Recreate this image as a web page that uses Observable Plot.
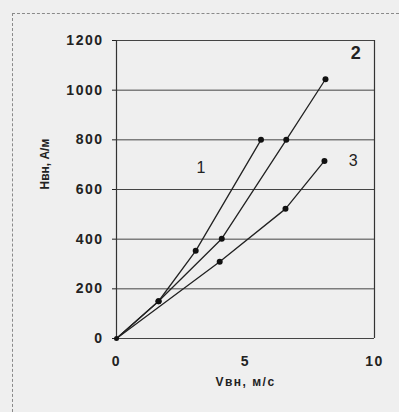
<!DOCTYPE html>
<html>
<head>
<meta charset="utf-8">
<script src="https://cdn.jsdelivr.net/npm/d3@7"></script>
<script src="https://cdn.jsdelivr.net/npm/@observablehq/plot@0.6"></script>
<style>
  html, body { margin: 0; padding: 0; background: #efefef; }
  #wrap { position: relative; width: 399px; height: 412px; overflow: hidden; }
  #frame { position: absolute; left: 12px; top: 13px; right: -5px; bottom: -5px;
           border-top: 1px dashed #8a8a8a; border-left: 1px dashed #8a8a8a; }
  svg { position: absolute; left: 0; top: 0; }
</style>
</head>
<body>
<div id="wrap"><div id="frame"></div></div>
<script>
// Series values (V, m/s ; H, A/m)
const series1V = [0, 1.63, 3.07, 5.6];
const series1H = [0, 150, 353, 800];
const series2V = [0, 1.63, 4.08, 6.58, 8.1];
const series2H = [0, 150, 402, 800, 1044];
const series3V = [0, 4.0, 6.55, 8.06];
const series3H = [0, 309, 522, 715];
const xTicks = [0, 5, 10];
const yTicks = [0, 200, 400, 600, 800, 1000, 1200];
const curveNames = ["1", "2", "3"];
const curveLabelV = [3.3, 9.3, 9.2];
const curveLabelH = [687, 1149, 715];
const xLabel = "Vвн, м/с";
const yLabel = "Нвн, А/м";

const rows = [];
[[series1V, series1H], [series2V, series2H], [series3V, series3H]].forEach(([vs, hs], i) => {
  vs.forEach((v, j) => rows.push({curve: curveNames[i], v, h: hs[j]}));
});
const labels = curveNames.map((n, i) => ({n, v: curveLabelV[i], h: curveLabelH[i]}));

const chart = Plot.plot({
  width: 399,
  height: 412,
  marginLeft: 116,
  marginRight: 25,
  marginTop: 40,
  marginBottom: 74,
  style: {background: "transparent", fontFamily: "Liberation Sans, Arial, sans-serif", color: "#222"},
  x: {domain: [0, 10], ticks: xTicks, tickFormat: d => String(d)},
  y: {domain: [0, 1200], ticks: yTicks, tickFormat: d => String(d)},
  marks: [
    Plot.ruleY(yTicks, {stroke: "#444", strokeWidth: 1}),
    Plot.ruleX([0, 10], {stroke: "#333", strokeWidth: 1.2}),
    Plot.axisX({ticks: xTicks, tickFormat: d => String(d), tickSize: 0, tickPadding: 18, label: null,
      fontSize: 14, fontWeight: "bold", fill: "#222"}),
    Plot.axisY({ticks: yTicks, tickFormat: d => String(d), tickSize: 4, tickPadding: 9, label: null,
      fontSize: 14, fontWeight: "bold", fill: "#222"}),
    Plot.line(rows, {x: "v", y: "h", z: "curve", stroke: "#222", strokeWidth: 1.3}),
    Plot.dot(rows.filter(d => d.v > 0), {x: "v", y: "h", r: 3, fill: "#111"}),
    Plot.dot([0], {x: d => 0, y: d => 0, r: 2.5, fill: "#111"}),
    Plot.text(labels.filter(d => d.n !== "2"), {x: "v", y: "h", text: "n", fontSize: 16, fill: "#222"}),
    Plot.text(labels.filter(d => d.n === "2"), {x: "v", y: "h", text: "n", fontSize: 18, fontWeight: "bold", fill: "#222"}),
    Plot.text([xLabel], {frameAnchor: "bottom", dy: 47, text: d => d, fontSize: 12, fontWeight: "bold",
      fill: "#222"}),
    Plot.text([yLabel], {frameAnchor: "left", dx: -71, rotate: -90, text: d => d, fontSize: 12,
      fontWeight: "bold", fill: "#222"})
  ]
});
chart.querySelectorAll("text").forEach(t => {
  const s = t.textContent;
  if (/^\d+$/.test(s)) t.setAttribute("letter-spacing", "1.5");
  if (s === xLabel) t.setAttribute("letter-spacing", "1.5");
});
document.getElementById("wrap").appendChild(chart);
</script>
</body>
</html>
